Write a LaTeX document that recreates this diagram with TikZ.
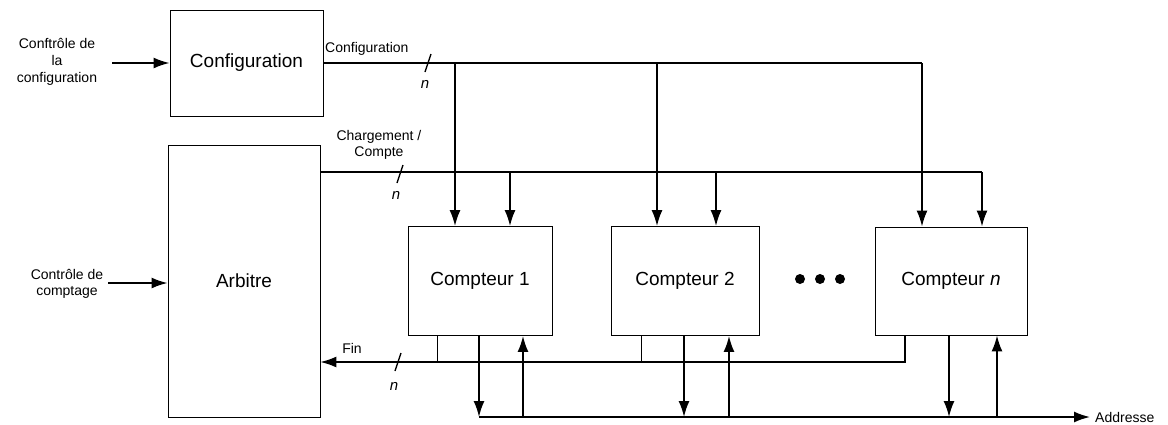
\documentclass[tikz,border=0pt]{standalone}
\usepackage{fontspec}
\setmainfont{Liberation Sans}
\usetikzlibrary{arrows.meta}
\begin{document}
\begin{tikzpicture}[x=1pt,y=-1pt,
  blk/.style={draw, line width=0.9pt, inner sep=0pt, font=\fontsize{19}{21}\selectfont},
  bus/.style={line width=1.7pt},
  finbus/.style={line width=1.3pt},
  thinl/.style={line width=0.9pt},
  arr/.style={-{Latex[length=16pt,width=11pt]}},
  lbl/.style={font=\fontsize{14}{16}\selectfont, inner sep=0pt, align=center},
  slash/.style={line width=1.3pt},
  nlbl/.style={font=\fontsize{15}{16}\selectfont\itshape, inner sep=0pt}]
\useasboundingbox (0,0) rectangle (1168,424);

% blocks
\node[blk, minimum width=153pt, minimum height=106pt] (config) at (246.5,63) {Configuration};
\node[blk, minimum width=152pt, minimum height=272pt] (arb) at (244,281) {Arbitre};
\node[blk, minimum width=144pt, minimum height=109pt] (c1) at (480,281) {Compteur 1};
\node[blk, minimum width=148pt, minimum height=109pt] (c2) at (685,281) {Compteur 2};
\node[blk, minimum width=152pt, minimum height=108pt] (cn) at (951,281) {Compteur \textit{n}};

% dots
\node[circle, fill, inner sep=0pt, minimum size=10pt] (d1) at (800,279) {};
\node[circle, fill, inner sep=0pt, minimum size=10pt] (d2) at (820,279) {};
\node[circle, fill, inner sep=0pt, minimum size=10pt] (d3) at (840,279) {};

% inputs
\node[lbl, font=\fontsize{14}{17}\selectfont] (ctlconf) at (57,62) {Conftrôle de\\la\\configuration};
\coordinate (inconf) at (112,63);
\draw[bus, arr] (inconf) -- (config.west);

\node[lbl, font=\fontsize{14}{15.5}\selectfont] (ctlcomp) at (67,284) {Contrôle de\\comptage};
\coordinate (incomp) at (108,283);
\draw[bus, arr] (incomp) -- (arb.west |- incomp);

% configuration bus
\coordinate (cb1) at (455,63);
\coordinate (cb2) at (657,63);
\coordinate (cbn) at (922,63);
\draw[bus] (config.east) -- (cbn);
\draw[bus, arr] (cb1) -- (cb1 |- c1.north);
\draw[bus, arr] (cb2) -- (cb2 |- c2.north);
\draw[bus, arr] (cbn) -- (cbn |- cn.north);
\node[lbl, anchor=south west] (lconf) at (325,56) {Configuration};
\coordinate (s1a) at (425,72);
\coordinate (s1b) at (431,54);
\draw[slash] (s1a) -- (s1b);
\node[nlbl] (n1) at (425,84) {n};

% chargement / compte bus
\coordinate (lb1) at (510,172);
\coordinate (lb2) at (716,172);
\coordinate (lbn) at (982,172);
\draw[bus] (arb.east |- lbn) -- (lbn);
\draw[bus, arr] (lb1) -- (lb1 |- c1.north);
\draw[bus, arr] (lb2) -- (lb2 |- c2.north);
\draw[bus, arr] (lbn) -- (lbn |- cn.north);
\node[lbl, font=\fontsize{14}{16}\selectfont] (lcharg) at (379,145) {Chargement /\\Compte};
\coordinate (s2a) at (397,183);
\coordinate (s2b) at (403,165);
\draw[slash] (s2a) -- (s2b);
\node[nlbl] (n2) at (396,195) {n};

% fin bus
\coordinate (f1) at (437,362);
\coordinate (f2) at (641,362);
\coordinate (fn) at (905,362);
\draw[finbus, arr] (fn |- cn.south) -- (fn) -- (arb.east |- fn);
\draw[thinl] (f1 |- c1.south) -- (f1);
\draw[thinl] (f2 |- c2.south) -- (f2);
\node[lbl] (lfin) at (352,348) {Fin};
\coordinate (s3a) at (395,371);
\coordinate (s3b) at (401,353);
\draw[slash] (s3a) -- (s3b);
\node[nlbl] (n3) at (394,386) {n};

% address bus
\coordinate (a1) at (479,417);
\coordinate (u1) at (523,417);
\coordinate (a2) at (684,417);
\coordinate (u2) at (729,417);
\coordinate (an) at (949,417);
\coordinate (un) at (997,417);
\coordinate (aend) at (1090,417);
\draw[bus, arr] (a1) -- (aend);
\draw[bus, arr] (a1 |- c1.south) -- (a1);
\draw[bus, arr] (a2 |- c2.south) -- (a2);
\draw[bus, arr] (an |- cn.south) -- (an);
\draw[bus, arr] (u1) -- (u1 |- c1.south);
\draw[bus, arr] (u2) -- (u2 |- c2.south);
\draw[bus, arr] (un) -- (un |- cn.south);
\node[lbl, anchor=west] (laddr) at (1095,417) {Addresse};
\end{tikzpicture}
\end{document}
